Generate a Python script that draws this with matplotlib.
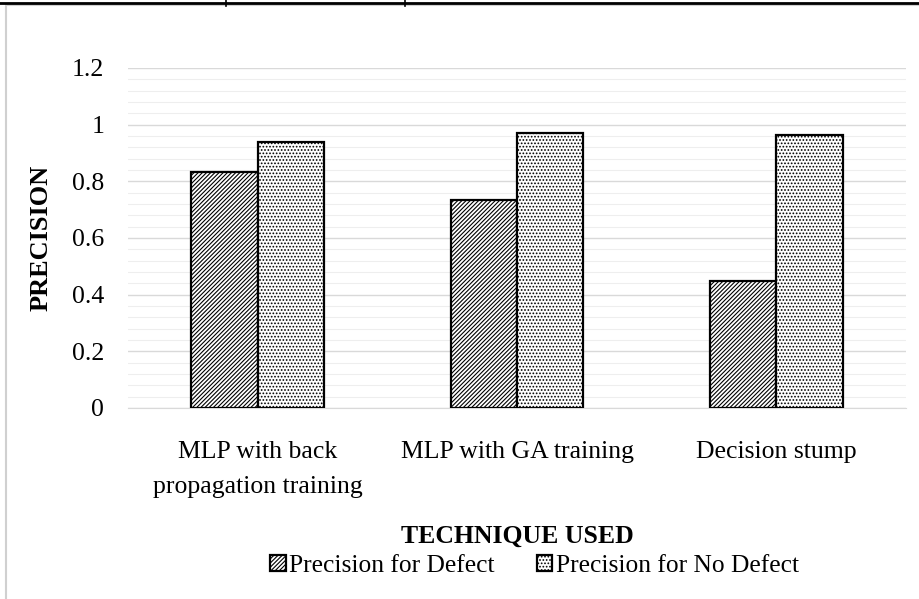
import numpy as np
import matplotlib
matplotlib.use("Agg")
from matplotlib import pyplot as plt
from matplotlib.lines import Line2D
from matplotlib.patches import Rectangle

plt.rcParams['font.family'] = ['Liberation Serif', 'DejaVu Serif']
plt.rcParams['hatch.linewidth'] = 0.8

# data
categories = ['MLP with back\npropagation training', 'MLP with GA training', 'Decision stump']
defect = [0.832, 0.734, 0.448]
no_defect = [0.937, 0.970, 0.962]
series_names = ['Precision for Defect', 'Precision for No Defect']

fig = plt.figure(figsize=(9.2, 5.99), dpi=100)
ax = fig.add_axes([0.139, 0.319, 0.846, 0.5675])

x = np.arange(len(categories))
w = 0.255
b1 = ax.bar(x - w / 2, defect, w, color='white', edgecolor='black', hatch='////////',
            linewidth=1.6, label=series_names[0], zorder=3)
b2 = ax.bar(x + w / 2, no_defect, w, color='white', edgecolor='black', hatch='.....',
            linewidth=1.6, label=series_names[1], zorder=3)

ax.set_xlim(-0.5, 2.5)
ax.set_ylim(0, 1.2)
ax.set_yticks(np.arange(0, 1.21, 0.2))
ax.set_yticklabels(['0', '0.2', '0.4', '0.6', '0.8', '1', '1.2'])
ax.set_yticks(np.arange(0, 1.2001, 0.04), minor=True)
ax.grid(axis='y', which='major', color='#d9d9d9', linewidth=1.0, zorder=0)
ax.grid(axis='y', which='minor', color='#eeeeee', linewidth=0.8, zorder=0)
ax.set_axisbelow(True)
for s in ['top', 'right', 'left']:
    ax.spines[s].set_visible(False)
ax.spines['bottom'].set_color('#d9d9d9')
ax.tick_params(axis='both', which='both', length=0, labelsize=18.5)
ax.tick_params(axis='y', pad=17)
ax.tick_params(axis='x', pad=24)
ax.set_xticks(x)
ax.set_xticklabels(categories, fontsize=18.5, linespacing=1.75)

ax.set_ylabel('PRECISION', fontsize=19, fontweight='bold', labelpad=14)
ax.set_xlabel('TECHNIQUE USED', fontsize=18.5, fontweight='bold')
ax.xaxis.set_label_coords(0.5, -0.345)

fig.legend(handles=[b1, b2], labels=series_names, loc='center', bbox_to_anchor=(0.581, 0.055),
           ncol=2, frameon=False, fontsize=18.4, handlelength=0.6, handleheight=0.6,
           handletextpad=0.15, columnspacing=1.63)

# chart border and clipped table edge at top
fig.patches.append(Rectangle((0.006, -0.01), 1.0, 1.002, transform=fig.transFigure,
                             fill=False, edgecolor='#d0d0d0', linewidth=1.5))
fig.lines.append(Line2D([0, 1], [0.995, 0.995], transform=fig.transFigure, color='black', linewidth=2))
for xx in [0.2455, 0.4403]:
    fig.lines.append(Line2D([xx, xx], [0.99, 1.0], transform=fig.transFigure, color='black', linewidth=1.2))

fig.savefig('out.png', dpi=100)
